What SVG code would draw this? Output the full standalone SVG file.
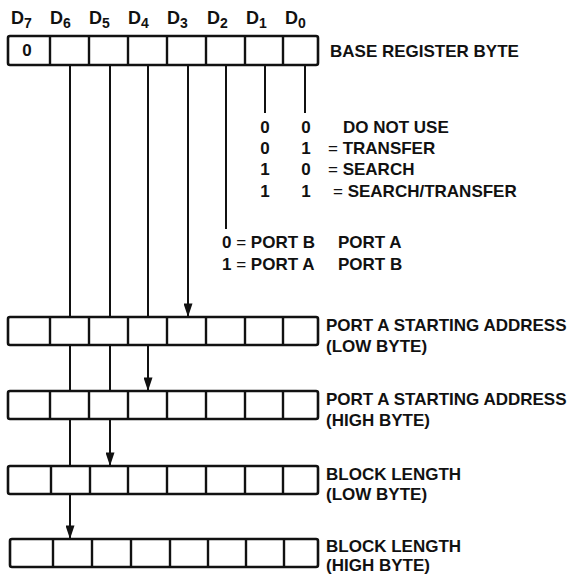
<svg xmlns="http://www.w3.org/2000/svg" width="569" height="576" viewBox="0 0 569 576">
  <style>
    text { font-family: "Liberation Sans", Arial, sans-serif; font-weight: bold; fill: #111; font-size: 17px; }
    .hd { font-size: 18px; }
    .sub { font-size: 14px; }
    .eq { font-weight: normal; }
    .reg rect { fill: #fff; stroke: #111; stroke-width: 2.6; }
    .reg line { stroke: #111; stroke-width: 2.4; }
    .conn path { fill: none; stroke: #111; stroke-width: 2; }
  </style>
  <defs>
    <marker id="arrow" viewBox="0 0 15 10" refX="15" refY="5" markerWidth="15" markerHeight="9" markerUnits="userSpaceOnUse" orient="auto">
      <path d="M0,0 L15,5 L0,10 z" fill="#111"/>
    </marker>
  </defs>
  <rect width="569" height="576" fill="#fff"/>

  <!-- Bit header -->
  <g id="bit-labels">
    <text class="hd" x="11" y="24">D<tspan class="sub" dy="4">7</tspan></text>
    <text class="hd" x="50" y="24">D<tspan class="sub" dy="4">6</tspan></text>
    <text class="hd" x="89" y="24">D<tspan class="sub" dy="4">5</tspan></text>
    <text class="hd" x="128" y="24">D<tspan class="sub" dy="4">4</tspan></text>
    <text class="hd" x="167" y="24">D<tspan class="sub" dy="4">3</tspan></text>
    <text class="hd" x="207" y="24">D<tspan class="sub" dy="4">2</tspan></text>
    <text class="hd" x="246" y="24">D<tspan class="sub" dy="4">1</tspan></text>
    <text class="hd" x="285" y="24">D<tspan class="sub" dy="4">0</tspan></text>
  </g>

  <!-- Base register -->
  <g id="base-register" class="reg">
    <rect x="8" y="36" width="310" height="29" rx="2"/>
    <line x1="50" y1="36" x2="50" y2="65"/>
    <line x1="89" y1="36" x2="89" y2="65"/>
    <line x1="128" y1="36" x2="128" y2="65"/>
    <line x1="167" y1="36" x2="167" y2="65"/>
    <line x1="206" y1="36" x2="206" y2="65"/>
    <line x1="245" y1="36" x2="245" y2="65"/>
    <line x1="283" y1="36" x2="283" y2="65"/>
    <text x="27" y="56" text-anchor="middle" font-size="16">0</text>
    <text x="330" y="57">BASE REGISTER BYTE</text>
  </g>

  <!-- Mode bits legend -->
  <g id="mode-legend">
    <text x="265" y="133" text-anchor="middle">0</text>
    <text x="306" y="133" text-anchor="middle">0</text>
    <text x="343" y="133">DO NOT USE</text>
    <text x="265" y="154" text-anchor="middle">0</text>
    <text x="306" y="154" text-anchor="middle">1</text>
    <text x="328" y="154"><tspan class="eq">=</tspan> TRANSFER</text>
    <text x="265" y="175" text-anchor="middle">1</text>
    <text x="306" y="175" text-anchor="middle">0</text>
    <text x="328" y="175"><tspan class="eq">=</tspan> SEARCH</text>
    <text x="265" y="197" text-anchor="middle">1</text>
    <text x="306" y="197" text-anchor="middle">1</text>
    <text x="333" y="197"><tspan class="eq">=</tspan> SEARCH/TRANSFER</text>
  </g>

  <!-- Port direction legend -->
  <g id="port-legend">
    <text x="222" y="248">0 <tspan class="eq">=</tspan> PORT B</text>
    <text x="338" y="248">PORT A</text>
    <text x="222" y="270">1 <tspan class="eq">=</tspan> PORT A</text>
    <text x="338" y="270">PORT B</text>
  </g>

  <!-- Connectors -->
  <g id="connectors" class="conn">
    <path d="M305,65 V113"/>
    <path d="M265,65 V113"/>
    <path d="M226,65 V229"/>
    <path d="M188,65 V317" marker-end="url(#arrow)"/>
    <path d="M148,65 V317 M148,345 V391" marker-end="url(#arrow)"/>
    <path d="M110,65 V317 M110,345 V391 M110,419 V466" marker-end="url(#arrow)"/>
    <path d="M70,65 V317 M70,345 V391 M70,419 V466 M70,494 V539" marker-end="url(#arrow)"/>
  </g>

  <!-- Port A starting address low -->
  <g id="port-a-low" class="reg">
    <rect x="8" y="317" width="310" height="28" rx="2"/>
    <line x1="50" y1="317" x2="50" y2="345"/>
    <line x1="89" y1="317" x2="89" y2="345"/>
    <line x1="128" y1="317" x2="128" y2="345"/>
    <line x1="167" y1="317" x2="167" y2="345"/>
    <line x1="206" y1="317" x2="206" y2="345"/>
    <line x1="245" y1="317" x2="245" y2="345"/>
    <line x1="283" y1="317" x2="283" y2="345"/>
    <text x="326" y="331">PORT A STARTING ADDRESS</text>
    <text x="326" y="352">(LOW BYTE)</text>
  </g>

  <!-- Port A starting address high -->
  <g id="port-a-high" class="reg">
    <rect x="8" y="391" width="310" height="28" rx="2"/>
    <line x1="50" y1="391" x2="50" y2="419"/>
    <line x1="89" y1="391" x2="89" y2="419"/>
    <line x1="128" y1="391" x2="128" y2="419"/>
    <line x1="167" y1="391" x2="167" y2="419"/>
    <line x1="206" y1="391" x2="206" y2="419"/>
    <line x1="245" y1="391" x2="245" y2="419"/>
    <line x1="283" y1="391" x2="283" y2="419"/>
    <text x="326" y="405">PORT A STARTING ADDRESS</text>
    <text x="326" y="426">(HIGH BYTE)</text>
  </g>

  <!-- Block length low -->
  <g id="block-length-low" class="reg">
    <rect x="8" y="466" width="310" height="28" rx="2"/>
    <line x1="51" y1="466" x2="51" y2="494"/>
    <line x1="90" y1="466" x2="90" y2="494"/>
    <line x1="128" y1="466" x2="128" y2="494"/>
    <line x1="167" y1="466" x2="167" y2="494"/>
    <line x1="206" y1="466" x2="206" y2="494"/>
    <line x1="245" y1="466" x2="245" y2="494"/>
    <line x1="283" y1="466" x2="283" y2="494"/>
    <text x="326" y="480">BLOCK LENGTH</text>
    <text x="326" y="500">(LOW BYTE)</text>
  </g>

  <!-- Block length high -->
  <g id="block-length-high" class="reg">
    <rect x="10" y="539" width="308" height="28" rx="2"/>
    <line x1="53" y1="539" x2="53" y2="567"/>
    <line x1="92" y1="539" x2="92" y2="567"/>
    <line x1="131" y1="539" x2="131" y2="567"/>
    <line x1="170" y1="539" x2="170" y2="567"/>
    <line x1="208" y1="539" x2="208" y2="567"/>
    <line x1="246" y1="539" x2="246" y2="567"/>
    <line x1="284" y1="539" x2="284" y2="567"/>
    <text x="326" y="552">BLOCK LENGTH</text>
    <text x="326" y="571">(HIGH BYTE)</text>
  </g>
</svg>
